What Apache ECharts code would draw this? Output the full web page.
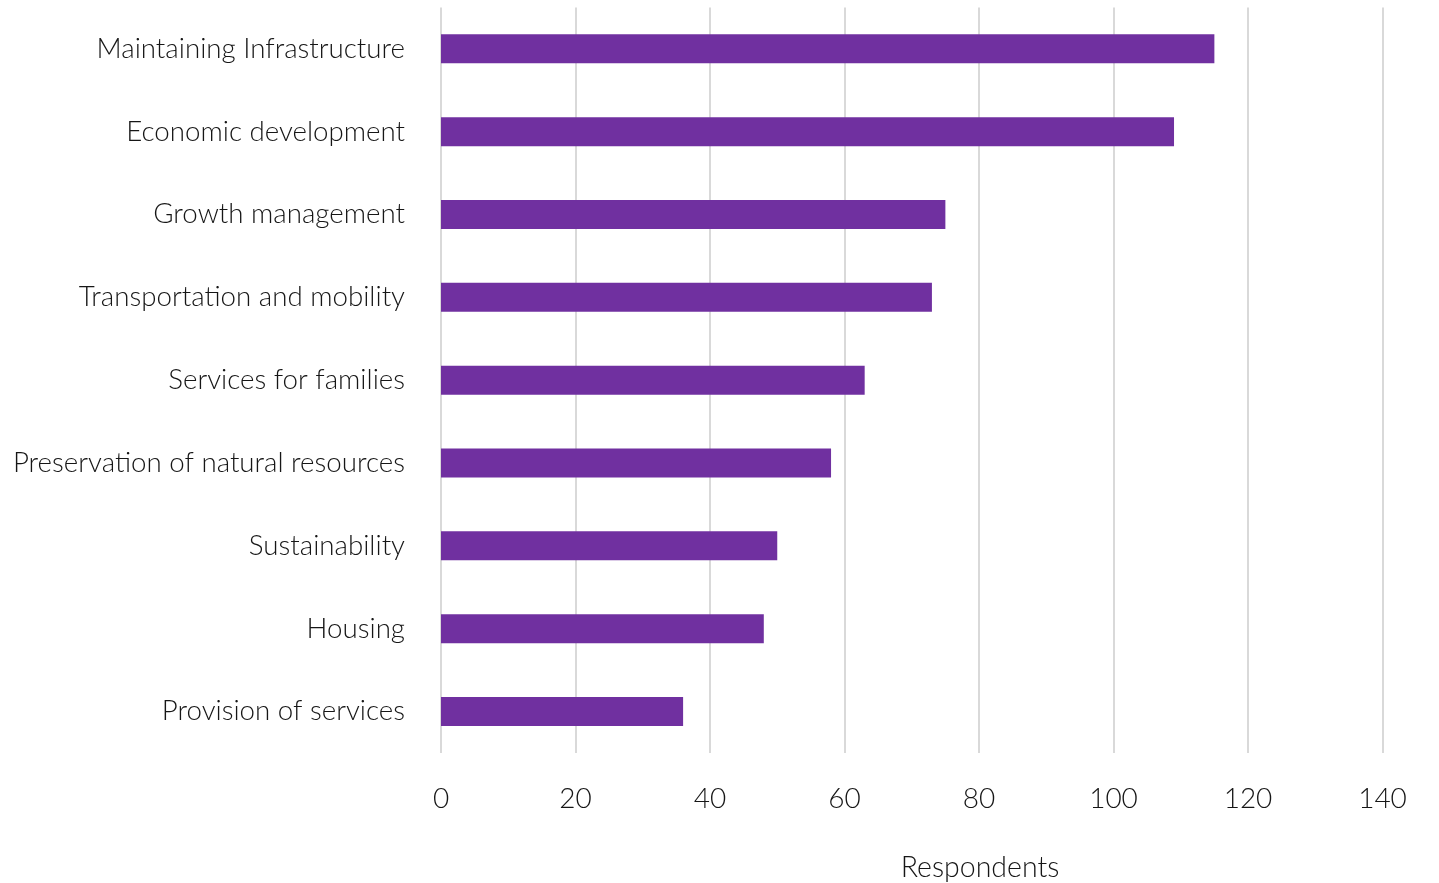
<!DOCTYPE html>
<html>
<head>
<meta charset="utf-8">
<title>Respondents by priority</title>
<script src="https://cdn.jsdelivr.net/npm/echarts@6/dist/echarts.min.js"></script>
<style>
  html, body { margin: 0; padding: 0; background: #ffffff; }
  #chart { width: 1439px; height: 883px; }
</style>
</head>
<body>
<div id="chart"></div>
<script>
// Priority areas, listed bottom-to-top as ECharts draws a category y axis
const categories = [
  'Provision of services',
  'Housing',
  'Sustainability',
  'Preservation of natural resources',
  'Services for families',
  'Transportation and mobility',
  'Growth management',
  'Economic development',
  'Maintaining Infrastructure'
];
const respondents = [36, 48, 50, 58, 63, 73, 75, 109, 115];
const xTicks = [0, 20, 40, 60, 80, 100, 120, 140];

const FONT = 'Lato';
const TEXT = '#161616';

const chart = echarts.init(document.getElementById('chart'), null, { renderer: 'canvas' });
chart.setOption({
  animation: false,
  title: {
    text: 'Respondents',
    left: 975,
    top: 848,
    textAlign: 'center',
    textStyle: { fontFamily: FONT, fontWeight: 300, fontSize: 28.5, color: TEXT }
  },
  grid: { left: 441, right: 1439 - 1382.5, top: 7.4, bottom: 883 - 752.9, containLabel: false },
  xAxis: {
    type: 'value',
    min: xTicks[0],
    max: xTicks[xTicks.length - 1],
    interval: xTicks[1] - xTicks[0],
    axisLine: { show: false },
    axisTick: { show: false },
    axisLabel: {
      margin: 32,
      fontFamily: FONT, fontWeight: 300, fontSize: 28, color: TEXT,
      formatter: v => String(v)
    },
    splitLine: { show: true, lineStyle: { color: '#d9d9d9', width: 2 } }
  },
  yAxis: {
    type: 'category',
    data: categories,
    axisLine: { show: false },
    axisTick: { show: false },
    axisLabel: {
      margin: 36,
      fontFamily: FONT, fontWeight: 300, fontSize: 27.7, color: TEXT
    },
    splitLine: { show: false }
  },
  series: [{
    type: 'bar',
    data: respondents,
    barWidth: '35%',
    itemStyle: { color: '#7030a0' }
  }]
});
</script>
</body>
</html>
